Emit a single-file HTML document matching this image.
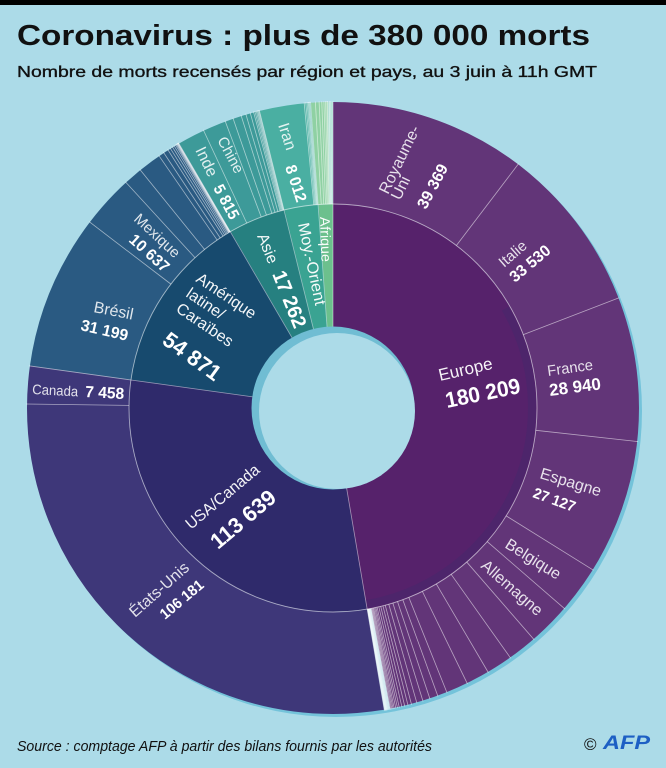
<!DOCTYPE html>
<html><head><meta charset="utf-8">
<style>
html,body{margin:0;padding:0;background:#acdbe8;width:666px;height:768px;overflow:hidden}
svg{display:block}
</style></head>
<body>
<svg width="666" height="768" viewBox="0 0 666 768" xmlns="http://www.w3.org/2000/svg" font-family="'Liberation Sans', sans-serif">
<rect x="0" y="0" width="666" height="768" fill="#acdbe8"/>
<rect x="0" y="0" width="666" height="5" fill="#000"/>

<!-- title -->
<text x="17" y="45" font-size="29" font-weight="bold" fill="#111" textLength="573" lengthAdjust="spacingAndGlyphs">Coronavirus : plus de 380 000 morts</text>
<text x="17" y="77" font-size="16" fill="#111" stroke="#111" stroke-width="0.35" textLength="580" lengthAdjust="spacingAndGlyphs">Nombre de morts recensés par région et pays, au 3 juin à 11h GMT</text>

<!-- outer shadow -->
<circle cx="336" cy="411" r="306" fill="#74c3da"/>

<!-- outer ring -->
<g fill="none" stroke-width="102" transform="rotate(-90 333 408)">
<circle cx="333" cy="408" r="255" stroke="#623578" stroke-dasharray="758.6 1602.21" stroke-dashoffset="0"/>
<circle cx="333" cy="408" r="255" stroke="#9ccfe0" stroke-dasharray="5.4 1602.21" stroke-dashoffset="-753.04"/>
<circle cx="333" cy="408" r="255" stroke="#3e3779" stroke-dasharray="479.0 1602.21" stroke-dashoffset="-758.2"/>
<circle cx="333" cy="408" r="255" stroke="#2a5a82" stroke-dasharray="231.2 1602.21" stroke-dashoffset="-1236.82"/>
<circle cx="333" cy="408" r="255" stroke="#3d9a99" stroke-dasharray="73.1 1602.21" stroke-dashoffset="-1467.66"/>
<circle cx="333" cy="408" r="255" stroke="#4aafa2" stroke-dasharray="43.6 1602.21" stroke-dashoffset="-1540.35"/>
<circle cx="333" cy="408" r="255" stroke="#8fd1a3" stroke-dasharray="14.6 1602.21" stroke-dashoffset="-1583.52"/>
<circle cx="333" cy="408" r="255" stroke="#a9dcd2" stroke-dasharray="4.6 1602.21" stroke-dashoffset="-1597.77"/>
</g>

<!-- inner ring -->
<g fill="none" stroke-width="204" transform="rotate(-90 333 408)">
<circle cx="333" cy="408" r="102" stroke="#56226b" stroke-dasharray="303.7 640.885" stroke-dashoffset="0"/>
<circle cx="333" cy="408" r="102" stroke="#2f2a6b" stroke-dasharray="191.85 640.885" stroke-dashoffset="-303.28"/>
<circle cx="333" cy="408" r="102" stroke="#174a6e" stroke-dasharray="92.74 640.885" stroke-dashoffset="-494.73"/>
<circle cx="333" cy="408" r="102" stroke="#268080" stroke-dasharray="29.47 640.885" stroke-dashoffset="-587.07"/>
<circle cx="333" cy="408" r="102" stroke="#3aa392" stroke-dasharray="17.67 640.885" stroke-dashoffset="-616.14"/>
<circle cx="333" cy="408" r="102" stroke="#6cc08d" stroke-dasharray="7.48 640.885" stroke-dashoffset="-633.41"/>
</g>

<!-- shadow band on Europe inner -->
<g fill="none" transform="rotate(-90 333 408)">
<circle cx="333" cy="408" r="199" stroke="#3b2b6e" stroke-opacity="0.35" stroke-width="8" stroke-dasharray="383.3 1250.35" stroke-dashoffset="-208.39"/>
</g>

<!-- ring separator -->
<circle cx="333" cy="408" r="204" fill="none" stroke="#ffffff" stroke-opacity="0.55" stroke-width="0.9"/>

<!-- outer separators -->
<g stroke="#ffffff" stroke-opacity="0.55" stroke-width="0.8">
<line x1="333" y1="204" x2="333" y2="101" transform="rotate(0 333 408)"/>
<line x1="333" y1="204" x2="333" y2="101" transform="rotate(37.22 333 408)"/>
<line x1="333" y1="204" x2="333" y2="101" transform="rotate(68.92 333 408)"/>
<line x1="333" y1="204" x2="333" y2="101" transform="rotate(96.28 333 408)"/>
<line x1="333" y1="204" x2="333" y2="101" transform="rotate(121.92 333 408)"/>
<line x1="333" y1="204" x2="333" y2="101" transform="rotate(130.91 333 408)"/>
<line x1="333" y1="204" x2="333" y2="101" transform="rotate(139.04 333 408)"/>
<line x1="333" y1="204" x2="333" y2="101" transform="rotate(144.62 333 408)"/>
<line x1="333" y1="204" x2="333" y2="101" transform="rotate(149.58 333 408)"/>
<line x1="333" y1="204" x2="333" y2="101" transform="rotate(154.02 333 408)"/>
<line x1="333" y1="204" x2="333" y2="101" transform="rotate(158.18 333 408)"/>
<line x1="333" y1="204" x2="333" y2="101" transform="rotate(160.0 333 408)"/>
<line x1="333" y1="204" x2="333" y2="101" transform="rotate(161.57 333 408)"/>
<line x1="333" y1="204" x2="333" y2="101" transform="rotate(162.94 333 408)"/>
<line x1="333" y1="204" x2="333" y2="101" transform="rotate(164.13 333 408)"/>
<line x1="333" y1="204" x2="333" y2="101" transform="rotate(165.17 333 408)"/>
<line x1="333" y1="204" x2="333" y2="101" transform="rotate(165.84 333 408)"/>
<line x1="333" y1="204" x2="333" y2="101" transform="rotate(166.47 333 408)"/>
<line x1="333" y1="204" x2="333" y2="101" transform="rotate(167.02 333 408)"/>
<line x1="333" y1="204" x2="333" y2="101" transform="rotate(167.52 333 408)"/>
<line x1="333" y1="204" x2="333" y2="101" transform="rotate(167.87 333 408)"/>
<line x1="333" y1="204" x2="333" y2="101" transform="rotate(168.18 333 408)"/>
<line x1="333" y1="204" x2="333" y2="101" transform="rotate(168.48 333 408)"/>
<line x1="333" y1="204" x2="333" y2="101" transform="rotate(168.71 333 408)"/>
<line x1="333" y1="204" x2="333" y2="101" transform="rotate(168.93 333 408)"/>
<line x1="333" y1="204" x2="333" y2="101" transform="rotate(169.13 333 408)"/>
<line x1="333" y1="204" x2="333" y2="101" transform="rotate(169.30 333 408)"/>
<line x1="333" y1="204" x2="333" y2="101" transform="rotate(169.45 333 408)"/>
<line x1="333" y1="204" x2="333" y2="101" transform="rotate(169.59 333 408)"/>
<line x1="333" y1="204" x2="333" y2="101" transform="rotate(169.72 333 408)"/>
<line x1="333" y1="204" x2="333" y2="101" transform="rotate(169.82 333 408)"/>
<line x1="333" y1="204" x2="333" y2="101" transform="rotate(169.92 333 408)"/>
<line x1="333" y1="204" x2="333" y2="101" transform="rotate(170.0 333 408)"/>
<line x1="333" y1="204" x2="333" y2="101" transform="rotate(170.08 333 408)"/>
<line x1="333" y1="204" x2="333" y2="101" transform="rotate(170.16 333 408)"/>
<line x1="333" y1="204" x2="333" y2="101" transform="rotate(170.24 333 408)"/>
<line x1="333" y1="204" x2="333" y2="101" transform="rotate(170.36 333 408)"/>
<line x1="333" y1="204" x2="333" y2="101" transform="rotate(270.74 333 408)"/>
<line x1="333" y1="204" x2="333" y2="101" transform="rotate(277.9 333 408)"/>
<line x1="333" y1="204" x2="333" y2="101" transform="rotate(307.39 333 408)"/>
<line x1="333" y1="204" x2="333" y2="101" transform="rotate(317.45 333 408)"/>
<line x1="333" y1="204" x2="333" y2="101" transform="rotate(321.0 333 408)"/>
<line x1="333" y1="204" x2="333" y2="101" transform="rotate(325.4 333 408)"/>
<line x1="333" y1="204" x2="333" y2="101" transform="rotate(326.45 333 408)"/>
<line x1="333" y1="204" x2="333" y2="101" transform="rotate(327.4 333 408)"/>
<line x1="333" y1="204" x2="333" y2="101" transform="rotate(327.93 333 408)"/>
<line x1="333" y1="204" x2="333" y2="101" transform="rotate(328.4 333 408)"/>
<line x1="333" y1="204" x2="333" y2="101" transform="rotate(328.78 333 408)"/>
<line x1="333" y1="204" x2="333" y2="101" transform="rotate(329.09 333 408)"/>
<line x1="333" y1="204" x2="333" y2="101" transform="rotate(329.28 333 408)"/>
<line x1="333" y1="204" x2="333" y2="101" transform="rotate(329.41 333 408)"/>
<line x1="333" y1="204" x2="333" y2="101" transform="rotate(329.5 333 408)"/>
<line x1="333" y1="204" x2="333" y2="101" transform="rotate(329.58 333 408)"/>
<line x1="333" y1="204" x2="333" y2="101" transform="rotate(329.65 333 408)"/>
<line x1="333" y1="204" x2="333" y2="101" transform="rotate(329.71 333 408)"/>
<line x1="333" y1="204" x2="333" y2="101" transform="rotate(329.77 333 408)"/>
<line x1="333" y1="204" x2="333" y2="101" transform="rotate(335.0 333 408)"/>
<line x1="333" y1="204" x2="333" y2="101" transform="rotate(339.4 333 408)"/>
<line x1="333" y1="204" x2="333" y2="101" transform="rotate(340.96 333 408)"/>
<line x1="333" y1="204" x2="333" y2="101" transform="rotate(342.56 333 408)"/>
<line x1="333" y1="204" x2="333" y2="101" transform="rotate(343.48 333 408)"/>
<line x1="333" y1="204" x2="333" y2="101" transform="rotate(344.33 333 408)"/>
<line x1="333" y1="204" x2="333" y2="101" transform="rotate(344.97 333 408)"/>
<line x1="333" y1="204" x2="333" y2="101" transform="rotate(345.25 333 408)"/>
<line x1="333" y1="204" x2="333" y2="101" transform="rotate(345.5 333 408)"/>
<line x1="333" y1="204" x2="333" y2="101" transform="rotate(345.7 333 408)"/>
<line x1="333" y1="204" x2="333" y2="101" transform="rotate(345.85 333 408)"/>
<line x1="333" y1="204" x2="333" y2="101" transform="rotate(346.0 333 408)"/>
<line x1="333" y1="204" x2="333" y2="101" transform="rotate(346.1 333 408)"/>
<line x1="333" y1="204" x2="333" y2="101" transform="rotate(354.6 333 408)"/>
<line x1="333" y1="204" x2="333" y2="101" transform="rotate(354.9 333 408)"/>
<line x1="333" y1="204" x2="333" y2="101" transform="rotate(355.15 333 408)"/>
<line x1="333" y1="204" x2="333" y2="101" transform="rotate(355.35 333 408)"/>
<line x1="333" y1="204" x2="333" y2="101" transform="rotate(355.5 333 408)"/>
<line x1="333" y1="204" x2="333" y2="101" transform="rotate(355.65 333 408)"/>
<line x1="333" y1="204" x2="333" y2="101" transform="rotate(355.8 333 408)"/>
<line x1="333" y1="204" x2="333" y2="101" transform="rotate(356.7 333 408)"/>
<line x1="333" y1="204" x2="333" y2="101" transform="rotate(357.4 333 408)"/>
<line x1="333" y1="204" x2="333" y2="101" transform="rotate(357.9 333 408)"/>
<line x1="333" y1="204" x2="333" y2="101" transform="rotate(358.3 333 408)"/>
<line x1="333" y1="204" x2="333" y2="101" transform="rotate(358.6 333 408)"/>
<line x1="333" y1="204" x2="333" y2="101" transform="rotate(358.85 333 408)"/>
<line x1="333" y1="204" x2="333" y2="101" transform="rotate(359.0 333 408)"/>
<line x1="333" y1="204" x2="333" y2="101" transform="rotate(359.3 333 408)"/>
<line x1="333" y1="204" x2="333" y2="101" transform="rotate(359.6 333 408)"/>
</g>

<!-- inner separators -->
<g stroke="#ffffff" stroke-opacity="0.5" stroke-width="0.8">
<line x1="333" y1="327" x2="333" y2="204" transform="rotate(0 333 408)"/>
<line x1="333" y1="327" x2="333" y2="204" transform="rotate(170.36 333 408)"/>
<line x1="333" y1="327" x2="333" y2="204" transform="rotate(277.9 333 408)"/>
<line x1="333" y1="327" x2="333" y2="204" transform="rotate(329.77 333 408)"/>
<line x1="333" y1="327" x2="333" y2="204" transform="rotate(346.1 333 408)"/>
<line x1="333" y1="327" x2="333" y2="204" transform="rotate(355.8 333 408)"/>
</g>

<!-- hole -->
<circle cx="333" cy="408" r="81.5" fill="#70bdd3"/>
<circle cx="337" cy="411" r="78" fill="#acdbe8"/>

<!-- inner labels -->
<g fill="#ffffff">
<text transform="translate(440,381) rotate(-13)" font-size="17" fill-opacity="0.95">Europe</text>
<text transform="translate(447,408) rotate(-11.5)" font-size="22" font-weight="bold" textLength="76" lengthAdjust="spacingAndGlyphs">180 209</text>

<text transform="translate(191,530) rotate(-40)" font-size="16" fill-opacity="0.95" textLength="91" lengthAdjust="spacingAndGlyphs">USA/Canada</text>
<text transform="translate(218,550) rotate(-40)" font-size="22" font-weight="bold" textLength="78" lengthAdjust="spacingAndGlyphs">113 639</text>

<text transform="translate(195,281) rotate(34)" font-size="16" fill-opacity="0.95">Amérique</text>
<text transform="translate(185,296) rotate(34)" font-size="16" fill-opacity="0.95">latine/</text>
<text transform="translate(175,311) rotate(34)" font-size="16" fill-opacity="0.95">Caraïbes</text>
<text transform="translate(161,343) rotate(36)" font-size="22" font-weight="bold" textLength="66" lengthAdjust="spacingAndGlyphs">54 871</text>

<text transform="translate(257,236) rotate(68)" font-size="16" fill-opacity="0.95">Asie</text>
<text transform="translate(272,274) rotate(68)" font-size="20" font-weight="bold" textLength="60" lengthAdjust="spacingAndGlyphs">17 262</text>

<text transform="translate(298,224) rotate(78)" font-size="16" fill-opacity="0.95" textLength="84" lengthAdjust="spacingAndGlyphs">Moy.-Orient</text>
<text transform="translate(320,217) rotate(88)" font-size="14" fill-opacity="0.95" textLength="45" lengthAdjust="spacingAndGlyphs">Afrique</text>
</g>

<!-- outer labels -->
<g fill="#ffffff">
<text transform="translate(388,195) rotate(-64)" font-size="16" fill-opacity="0.85">Royaume-</text>
<text transform="translate(400,201) rotate(-64)" font-size="16" fill-opacity="0.85">Uni</text>
<text transform="translate(426,210) rotate(-62)" font-size="16" font-weight="bold" textLength="48" lengthAdjust="spacingAndGlyphs">39 369</text>

<text transform="translate(504,268) rotate(-41)" font-size="15" fill-opacity="0.85">Italie</text>
<text transform="translate(515,283) rotate(-40)" font-size="16" font-weight="bold" textLength="48" lengthAdjust="spacingAndGlyphs">33 530</text>

<text transform="translate(548,376) rotate(-8)" font-size="15" fill-opacity="0.85" textLength="46" lengthAdjust="spacingAndGlyphs">France</text>
<text transform="translate(550,396) rotate(-7.5)" font-size="17" font-weight="bold" textLength="52" lengthAdjust="spacingAndGlyphs">28 940</text>

<text transform="translate(539,478) rotate(17)" font-size="16" fill-opacity="0.85">Espagne</text>
<text transform="translate(532,497) rotate(20)" font-size="15" font-weight="bold" textLength="44" lengthAdjust="spacingAndGlyphs">27 127</text>

<text transform="translate(504,547) rotate(32)" font-size="16" fill-opacity="0.85">Belgique</text>
<text transform="translate(480,567) rotate(41)" font-size="16" fill-opacity="0.85">Allemagne</text>

<text transform="translate(135,618) rotate(-41.5)" font-size="16" fill-opacity="0.85">États-Unis</text>
<text transform="translate(165,620) rotate(-40)" font-size="15" font-weight="bold" textLength="52" lengthAdjust="spacingAndGlyphs">106 181</text>

<text transform="translate(32,394) rotate(3)" font-size="14" fill-opacity="0.85" textLength="46" lengthAdjust="spacingAndGlyphs">Canada</text>
<text transform="translate(85,397) rotate(3)" font-size="16" font-weight="bold" textLength="39" lengthAdjust="spacingAndGlyphs">7 458</text>

<text transform="translate(93,312) rotate(11)" font-size="16" fill-opacity="0.85">Brésil</text>
<text transform="translate(80,330) rotate(13)" font-size="16" font-weight="bold" textLength="48" lengthAdjust="spacingAndGlyphs">31 199</text>

<text transform="translate(133,220) rotate(43)" font-size="15" fill-opacity="0.85">Mexique</text>
<text transform="translate(128,241) rotate(42)" font-size="16" font-weight="bold" textLength="48" lengthAdjust="spacingAndGlyphs">10 637</text>

<text transform="translate(195,150) rotate(64)" font-size="16" fill-opacity="0.85">Inde</text>
<text transform="translate(217,140) rotate(62)" font-size="15" fill-opacity="0.85">Chine</text>
<text transform="translate(213,188) rotate(62)" font-size="16" font-weight="bold" textLength="37" lengthAdjust="spacingAndGlyphs">5 815</text>

<text transform="translate(278,125) rotate(72)" font-size="16" fill-opacity="0.85">Iran</text>
<text transform="translate(285,167) rotate(72)" font-size="16" font-weight="bold" textLength="38" lengthAdjust="spacingAndGlyphs">8 012</text>
</g>

<!-- footer -->
<text x="17" y="751" font-size="14.5" font-style="italic" fill="#111" textLength="415" lengthAdjust="spacingAndGlyphs">Source : comptage AFP à partir des bilans fournis par les autorités</text>
<text x="584" y="750" font-size="17" fill="#111">©</text>
<text x="603" y="749" font-size="19" font-weight="bold" font-style="italic" fill="#1d5fc4" textLength="47" lengthAdjust="spacingAndGlyphs">AFP</text>
</svg>
</body></html>
